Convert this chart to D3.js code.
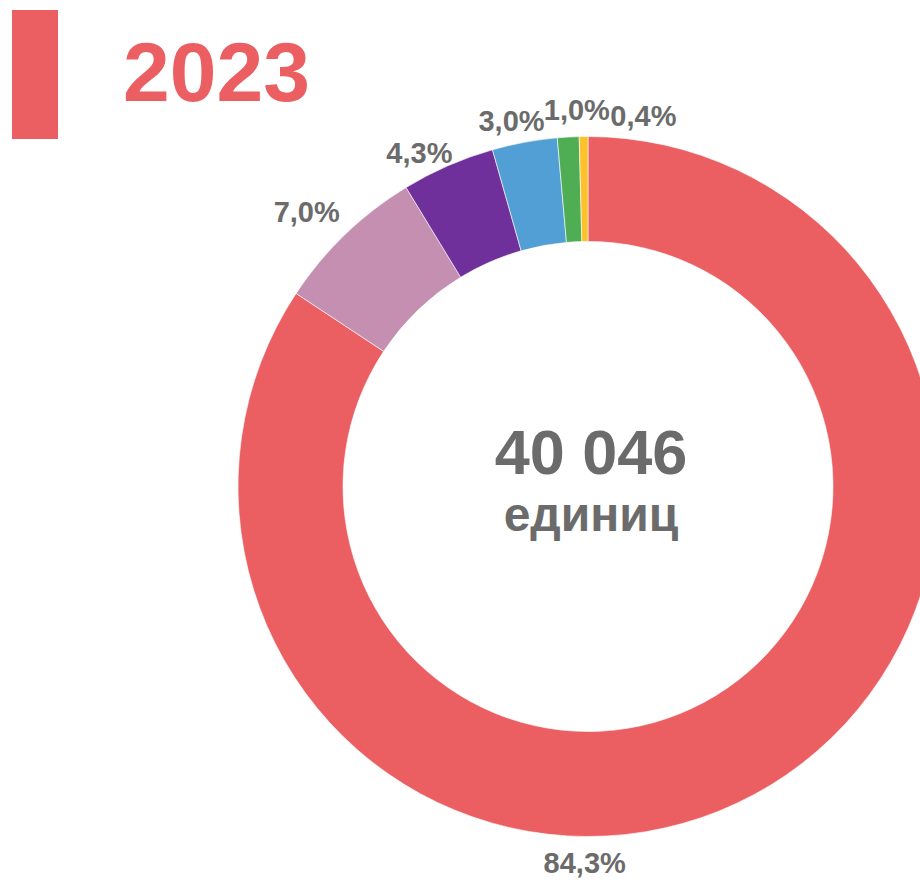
<!DOCTYPE html>
<html>
<head>
<meta charset="utf-8">
<script src="https://cdn.jsdelivr.net/npm/d3@7"></script>
<style>
  html, body { margin: 0; padding: 0; background: #fff; }
  svg { display: block; font-family: "Liberation Sans", Arial, sans-serif; }
</style>
</head>
<body>
<div id="chart"></div>
<script>
// data (order = clockwise from 12 o'clock)
var shares = [84.3, 7.0, 4.3, 3.0, 1.0, 0.4];
var shareLabels = ["84,3%", "7,0%", "4,3%", "3,0%", "1,0%", "0,4%"];
var sliceColors = ["#eb5f62", "#c48fb0", "#70309b", "#529fd6", "#4fae53", "#fdc12c"];
var yearLabel = "2023";
var totalLabel = "40 046";
var unitLabel = "единиц";

// where the labels sit around the ring: [angle in degrees, radius]
var labelPolar = [[180.5, 376], [314.3, 393], [333.2, 374], [348.2, 374], [358.3, 377], [8.5, 375]];

var width = 920,
    height = 880,
    cx = 588,
    cy = 486.5,
    outerR = 350,
    innerR = 245;

var svg = d3.select("#chart").append("svg")
    .attr("width", width)
    .attr("height", height);

//year marker top left
svg.append("rect")
    .attr("x", 12).attr("y", 10)
    .attr("width", 46).attr("height", 129)
    .attr("fill", sliceColors[0]);

svg.append("text")
    .attr("x", 123).attr("y", 101)
    .attr("font-size", 84)
    .attr("font-weight", "bold")
    .attr("fill", sliceColors[0])
    .text(yearLabel);

var pie = d3.pie().sort(null).value(function (d) { return d; });
var arc = d3.arc().innerRadius(innerR).outerRadius(outerR);

var ring = svg.append("g").attr("transform", "translate(" + [cx, cy] + ")");

ring.selectAll("path")
    .data(pie(shares))
    .enter().append("path")
    .attr("d", arc)
    .attr("fill", function (d, i) { return sliceColors[i]; })
    .attr("stroke", "#fff")
    .attr("stroke-width", 0.6);

ring.selectAll("text.lbl")
    .data(shareLabels)
    .enter().append("text")
    .attr("class", "lbl")
    .attr("x", function (d, i) { return labelPolar[i][1] * Math.sin(labelPolar[i][0] * Math.PI / 180); })
    .attr("y", function (d, i) { return -labelPolar[i][1] * Math.cos(labelPolar[i][0] * Math.PI / 180); })
    .attr("dy", "0.36em")
    .attr("text-anchor", "middle")
    .attr("font-size", 29)
    .attr("font-weight", "bold")
    .attr("fill", "#6b6b6b")
    .text(function (d) { return d; });

//total in the hole
ring.append("text")
    .attr("x", 3).attr("y", -13)
    .attr("text-anchor", "middle")
    .attr("font-size", 63)
    .attr("font-weight", "bold")
    .attr("fill", "#6b6b6b")
    .text(totalLabel);

ring.append("text")
    .attr("x", 3).attr("y", 44)
    .attr("text-anchor", "middle")
    .attr("font-size", 48)
    .attr("font-weight", "bold")
    .attr("fill", "#6b6b6b")
    .text(unitLabel);
</script>
</body>
</html>
